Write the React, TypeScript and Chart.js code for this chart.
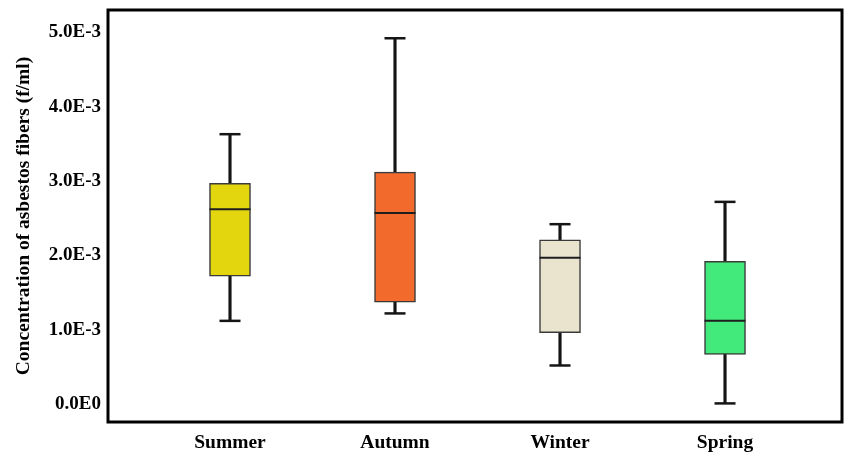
import React, { useEffect, useRef } from "react";
import { Chart, registerables } from "chart.js";

Chart.register(...registerables);

const categories = ["Summer", "Autumn", "Winter", "Spring"];
const minValues = [1.12e-3, 1.22e-3, 0.52e-3, 0.01e-3];
const q1Values = [1.72e-3, 1.37e-3, 0.96e-3, 0.67e-3];
const medianValues = [2.62e-3, 2.57e-3, 1.97e-3, 1.12e-3];
const q3Values = [2.97e-3, 3.12e-3, 2.21e-3, 1.92e-3];
const maxValues = [3.63e-3, 4.92e-3, 2.42e-3, 2.72e-3];
const boxColors = ["#E3D60F", "#F26B2C", "#EAE3CD", "#42EA7C"];
const yTickLabels = ["0.0E0", "1.0E-3", "2.0E-3", "3.0E-3", "4.0E-3", "5.0E-3"];
const yTitle = "Concentration of asbestos fibers (f/ml)";

const framePlugin = {
  id: "frame",
  afterDatasetsDraw(chart: any) {
    const { ctx, chartArea } = chart;
    ctx.save();
    ctx.strokeStyle = "#000";
    ctx.lineWidth = 3;
    ctx.strokeRect(chartArea.left, chartArea.top, chartArea.right - chartArea.left, chartArea.bottom - chartArea.top);
    ctx.restore();
  },
};

export default function App() {
  const ref = useRef<HTMLCanvasElement | null>(null);
  useEffect(() => {
    document.body.style.margin = "0";
    const xs = categories.map((_, i) => i + 1);
    const whiskerStyle = {
      backgroundColor: "#151515",
      borderWidth: 0,
      barThickness: 2.5,
      grouped: false,
      order: 3,
    };
    const chart = new Chart(ref.current as HTMLCanvasElement, {
      type: "bar",
      data: {
        datasets: [
          {
            type: "bar",
            label: "lowerWhisker",
            data: xs.map((x, i) => ({ x, y: [minValues[i], q1Values[i]] })),
            ...whiskerStyle,
          } as any,
          {
            type: "bar",
            label: "upperWhisker",
            data: xs.map((x, i) => ({ x, y: [q3Values[i], maxValues[i]] })),
            ...whiskerStyle,
          } as any,
          {
            type: "bar",
            label: "box",
            data: xs.map((x, i) => ({ x, y: [q1Values[i], q3Values[i]] })),
            backgroundColor: boxColors,
            borderColor: "#3a3a3a",
            borderWidth: 1.5,
            borderSkipped: false,
            barThickness: 41,
            grouped: false,
            order: 2,
          } as any,
          {
            type: "scatter",
            label: "caps",
            data: [
              ...xs.map((x, i) => ({ x, y: minValues[i] })),
              ...xs.map((x, i) => ({ x, y: maxValues[i] })),
            ],
            pointStyle: "line",
            radius: 10.5,
            borderColor: "#151515",
            borderWidth: 2.5,
            order: 1,
          } as any,
          {
            type: "scatter",
            label: "median",
            data: xs.map((x, i) => ({ x, y: medianValues[i] })),
            pointStyle: "line",
            radius: 20.5,
            borderColor: "#1e1e1e",
            borderWidth: 2,
            order: 0,
          } as any,
        ],
      },
      options: {
        animation: false,
        responsive: false,
        maintainAspectRatio: false,
        layout: { autoPadding: false, padding: { left: 0, right: 3, top: 10, bottom: 0 } },
        plugins: { legend: { display: false }, tooltip: { enabled: false } },
        scales: {
          x: {
            type: "linear",
            offset: false,
            min: 0.2606,
            max: 4.709,
            grid: { display: false, drawTicks: false },
            border: { display: false },
            afterBuildTicks: (scale: any) => {
              scale.ticks = xs.map((v) => ({ value: v }));
            },
            afterFit: (scale: any) => {
              scale.height = 33;
              scale.paddingLeft = 0;
              scale.paddingRight = 0;
            },
            ticks: {
              padding: 9,
              color: "#000",
              font: { family: "Liberation Serif", size: 19.5, weight: "bold" },
              callback: (v: any) => categories[Math.round(Number(v)) - 1] ?? "",
              maxRotation: 0,
              autoSkip: false,
            },
          },
          y: {
            type: "linear",
            min: -0.24e-3,
            max: 5.3e-3,
            grid: { display: false, drawTicks: false },
            border: { display: false },
            afterFit: (scale: any) => {
              scale.width = 108;
              scale.paddingTop = 0;
              scale.paddingBottom = 0;
            },
            ticks: {
              stepSize: 1e-3,
              includeBounds: false,
              padding: 7,
              color: "#000",
              font: { family: "Liberation Serif", size: 19, weight: "bold" },
              callback: (v: any) => yTickLabels[Math.round(Number(v) / 1e-3)] ?? "",
            },
            title: {
              display: true,
              text: yTitle,
              color: "#000",
              padding: { top: 12, bottom: 4 },
              font: { family: "Liberation Serif", size: 19.5, weight: "bold" },
            },
          },
        },
      } as any,
      plugins: [framePlugin],
    });
    return () => chart.destroy();
  }, []);
  return <canvas ref={ref} width={845} height={455} style={{ display: "block", width: 845, height: 455 }} />;
}
